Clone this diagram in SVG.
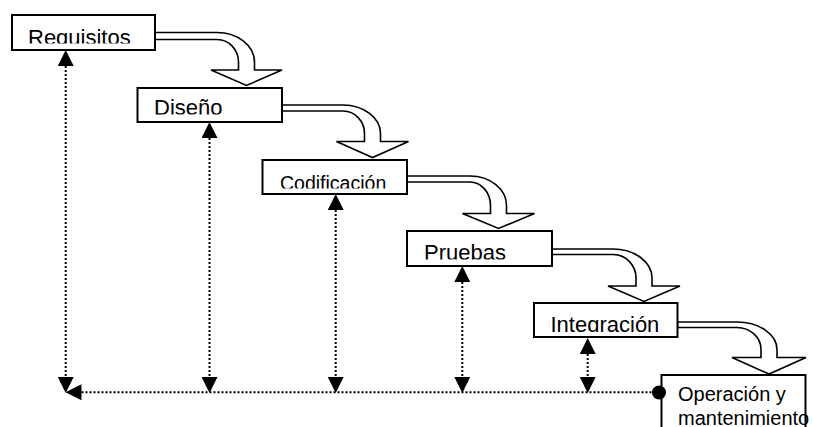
<svg xmlns="http://www.w3.org/2000/svg" width="813" height="427" viewBox="0 0 813 427">
<style>
.box{fill:#fff;stroke:#000;stroke-width:2}
.lbl{font-family:"Liberation Sans",Arial,sans-serif;font-size:22px;fill:#000}
.flow{fill:#fff;stroke:#000;stroke-width:1.6;stroke-linejoin:miter}
.dot{fill:none;stroke:#000;stroke-width:2;stroke-dasharray:2 2}
</style>
<defs>
<marker id="ah" markerUnits="userSpaceOnUse" markerWidth="16" markerHeight="16" refX="0" refY="7.5" orient="auto-start-reverse" viewBox="0 0 15 15">
<path d="M0,0 L15,7.5 L0,15 Z" fill="#000"/>
</marker>
<clipPath id="c1"><rect x="12" y="15" width="143" height="28.5"/></clipPath>
<clipPath id="c2"><rect x="137" y="88" width="145" height="26.5"/></clipPath>
<clipPath id="c3"><rect x="262" y="160" width="145" height="28.5"/></clipPath>
<clipPath id="c4"><rect x="407" y="231" width="145" height="28.5"/></clipPath>
<clipPath id="c5"><rect x="534" y="303" width="144" height="29"/></clipPath>
</defs>

<g id="connectors">
<path class="flow" d="M155,32.5 H217 A37.5,29.5 0 0 1 254.5,62 V70 H282 L246.5,85.5 L211,70 H238.5 V62 A21.5,22.5 0 0 0 217,39.5 H155 Z"/>
<path class="flow" d="M282,105 H343 A37.5,28.5 0 0 1 380.5,133.5 V141.5 H408.5 L372.5,157.5 L336.5,141.5 H364.5 V133.5 A21.5,22.5 0 0 0 343,111 H282 Z"/>
<path class="flow" d="M407,176 H470 A36.5,29.5 0 0 1 506.5,205.5 V213.5 H534.5 L498.5,228.5 L462.5,213.5 H490.5 V205.5 A20.5,23.5 0 0 0 470,182 H407 Z"/>
<path class="flow" d="M552,249 H613 A39,29 0 0 1 652,278 V286 H680 L644,301.5 L608,286 H636 V278 A23,23.5 0 0 0 613,254.5 H552 Z"/>
<path class="flow" d="M677.5,322 H737 A40,27.5 0 0 1 777,349.5 V357.5 H806 L769,374 L732,357.5 H761 V349.5 A24,22 0 0 0 737,327.5 H677.5 Z"/>

<line class="dot" x1="65.7" y1="66" x2="65.7" y2="377" marker-start="url(#ah)" marker-end="url(#ah)"/>
<line class="dot" x1="209.5" y1="138" x2="209.5" y2="377" marker-start="url(#ah)" marker-end="url(#ah)"/>
<line class="dot" x1="335.7" y1="210" x2="335.7" y2="377" marker-start="url(#ah)" marker-end="url(#ah)"/>
<line class="dot" x1="462.3" y1="282" x2="462.3" y2="377" marker-start="url(#ah)" marker-end="url(#ah)"/>
<line class="dot" x1="587.7" y1="354" x2="587.7" y2="377" marker-start="url(#ah)" marker-end="url(#ah)"/>
<line class="dot" x1="81.5" y1="392.3" x2="654" y2="392.3" marker-start="url(#ah)"/>
</g>

<g id="requisitos">
<rect class="box" x="12" y="15" width="143" height="35"/>
<text class="lbl" x="28" y="44.5" clip-path="url(#c1)">Requisitos</text>
</g>
<g id="diseno">
<rect class="box" x="137.5" y="88" width="144.5" height="34"/>
<text class="lbl" x="154" y="115" clip-path="url(#c2)">Diseño</text>
</g>
<g id="codificacion">
<rect class="box" x="262.5" y="160" width="144.5" height="34"/>
<text class="lbl" x="280" y="190" style="font-size:19.5px" clip-path="url(#c3)">Codificación</text>
</g>
<g id="pruebas">
<rect class="box" x="407" y="231" width="145" height="35"/>
<text class="lbl" x="424" y="260" clip-path="url(#c4)">Pruebas</text>
</g>
<g id="integracion">
<rect class="box" x="534" y="303" width="143.5" height="34"/>
<text class="lbl" x="550.5" y="332" clip-path="url(#c5)">Integración</text>
</g>
<g id="operacion">
<path d="M661.5,440 V375 H805.5 V440" fill="#fff" stroke="#000" stroke-width="2"/>
<circle cx="659" cy="392.5" r="7" fill="#000"/>
<text class="lbl" style="font-size:20px" x="678" y="401"><tspan x="678" y="401">Operación y</tspan><tspan x="678" y="424.5">mantenimiento</tspan></text>
</g>
</svg>
